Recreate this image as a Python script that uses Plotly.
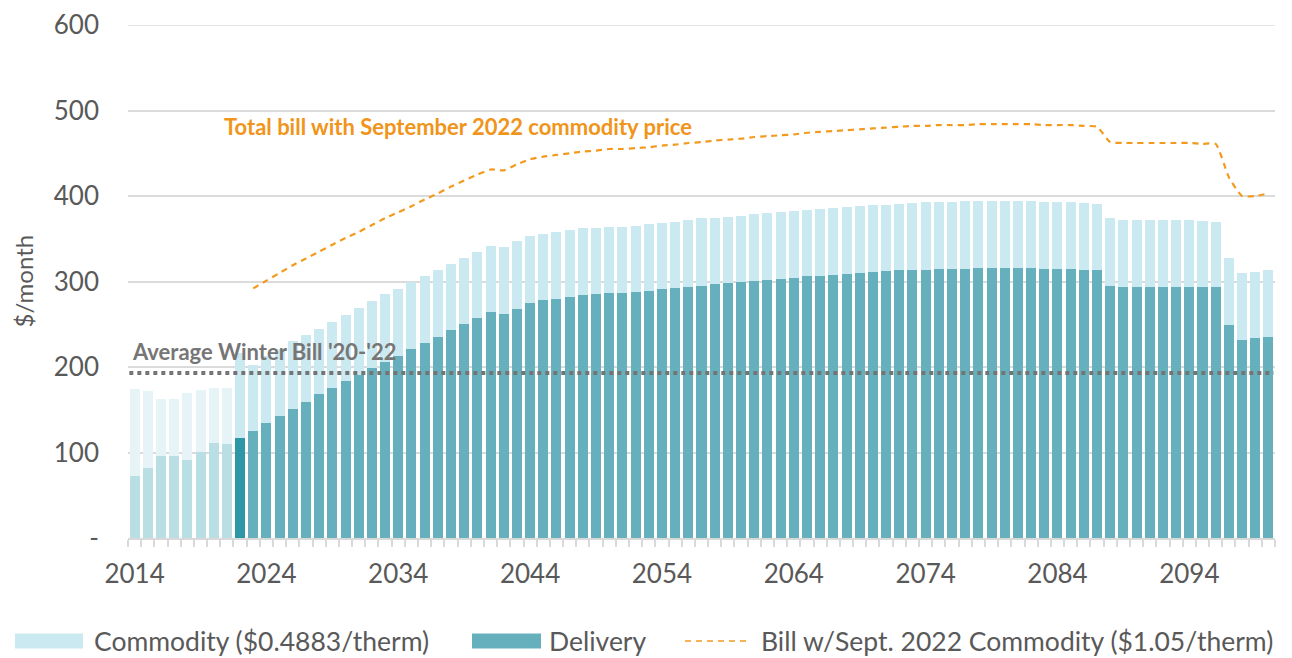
import plotly.graph_objects as go

years = list(range(2014, 2101))

delivery = [72, 82, 96, 96, 91, 101, 111, 110, 117, 125,
            135, 143, 151, 159, 168, 176, 184, 191, 199, 206,
            213, 221, 228, 235, 243, 250, 257, 264, 262, 268,
            275, 278, 280, 282, 284, 285, 287, 286, 288, 289,
            291, 292, 294, 295, 297, 298, 299, 301, 302, 303,
            304, 306, 307, 308, 309, 310, 311, 312, 313, 314,
            314, 315, 315, 315, 316, 316, 316, 316, 316, 315,
            315, 315, 314, 313, 295, 294, 294, 294, 294, 294,
            294, 294, 293, 249, 232, 234, 235]

commodity = [102, 90, 67, 67, 79, 72, 65, 66, 99, 77,
             78, 78, 79, 78, 77, 77, 77, 78, 78, 79,
             78, 78, 78, 78, 78, 78, 78, 78, 78, 79,
             78, 78, 78, 78, 78, 78, 77, 78, 77, 78,
             78, 78, 78, 79, 77, 77, 78, 78, 78, 78,
             78, 78, 78, 78, 78, 78, 78, 78, 78, 78,
             79, 78, 78, 79, 78, 78, 78, 78, 78, 78,
             78, 78, 78, 78, 79, 78, 78, 78, 78, 78,
             78, 77, 77, 78, 78, 77, 78]

bill_years = list(range(2023, 2101))
bill_sept2022 = [292, 301, 310, 319, 327, 335, 343, 351, 358, 366,
                 374, 381, 388, 396, 403, 411, 418, 425, 431, 430,
                 437, 443, 446, 448, 450, 452, 453, 455, 455, 456,
                 457, 459, 460, 462, 463, 465, 466, 467, 469, 470,
                 471, 472, 474, 475, 476, 477, 478, 479, 480, 481,
                 482, 482, 483, 483, 483, 484, 484, 484, 484, 484,
                 483, 483, 483, 482, 481, 463, 462, 462, 462, 462,
                 462, 462, 461, 461, 422, 400, 400, 403]

avg_winter_bill = 193
y_ticks = [0, 100, 200, 300, 400, 500, 600]
y_ticktext = ["-", "100", "200", "300", "400", "500", "600"]
x_ticks = list(range(2014, 2095, 10))

FONT = "Lato"
GREY = "#595959"
ORANGE = "#f39a1e"
GRID = "rgba(0,0,0,0.14)"

deliv_colors = ["#b9dfe4" if y < 2022 else ("#2e97a6" if y == 2022 else "#66b0bd") for y in years]
comm_colors = ["#e6f4f7" if y < 2022 else "#cbe9f0" for y in years]

fig = go.Figure()
fig.add_trace(go.Bar(x=years, y=delivery, marker=dict(color=deliv_colors, line=dict(width=0)),
                     name="Delivery", showlegend=False))
fig.add_trace(go.Bar(x=years, y=commodity, marker=dict(color=comm_colors, line=dict(width=0)),
                     name="Commodity ($0.4883/therm)", showlegend=False))
fig.add_trace(go.Scatter(x=bill_years, y=bill_sept2022, mode="lines",
                         line=dict(color=ORANGE, width=2.2, dash="6px,5px", shape="spline", smoothing=0.5),
                         name="Bill w/Sept. 2022 Commodity ($1.05/therm)", showlegend=False))

# top gridline at 600
fig.add_shape(type="line", xref="paper", yref="y", x0=0, x1=1, y0=y_ticks[-1], y1=y_ticks[-1],
              line=dict(color=GRID, width=1.5), layer="above")

fig.add_shape(type="line", xref="x", yref="y", x0=2013.6, x1=2100.4, y0=avg_winter_bill, y1=avg_winter_bill,
              line=dict(color="#747474", width=4, dash="4px,4px"), layer="above")

fig.add_annotation(x=2020.6, y=481, xref="x", yref="y", xanchor="left", yanchor="middle",
                   text="<b>Total bill with September 2022 commodity price</b>", showarrow=False,
                   font=dict(family=FONT, size=22, color="#f0941a"))
fig.add_annotation(x=2013.65, y=218, xref="x", yref="y", xanchor="left", yanchor="middle",
                   text="<b>Average Winter Bill '20-'22</b>", showarrow=False,
                   font=dict(family=FONT, size=22, color="#767676"))

# y-axis title
fig.add_annotation(x=0, y=0.5, xref="paper", yref="paper", xshift=-105, textangle=-90,
                   text="$/month", showarrow=False, xanchor="center", yanchor="middle",
                   font=dict(family=FONT, size=24, color=GREY))

# custom legend (plot area is 1147 px wide, 513 px tall; page x of plot left edge = 128)
PW, PH = 1147.0, 513.0
def px_x(v):
    return (v - 128) / PW
leg_y = (538 - 641) / PH
hh = 7.5 / PH
LEG_SIZE = 26.5
fig.add_shape(type="rect", xref="paper", yref="paper", x0=px_x(15), x1=px_x(83),
              y0=leg_y - hh, y1=leg_y + hh, fillcolor="#cbe9f0", line=dict(width=0))
fig.add_annotation(x=px_x(92), y=leg_y, xref="paper", yref="paper", xanchor="left", yanchor="middle",
                   text="Commodity ($0.4883/therm)", showarrow=False,
                   font=dict(family=FONT, size=LEG_SIZE, color=GREY))
fig.add_shape(type="rect", xref="paper", yref="paper", x0=px_x(472), x1=px_x(541),
              y0=leg_y - hh, y1=leg_y + hh, fillcolor="#66b0bd", line=dict(width=0))
fig.add_annotation(x=px_x(547), y=leg_y, xref="paper", yref="paper", xanchor="left", yanchor="middle",
                   text="Delivery", showarrow=False, font=dict(family=FONT, size=LEG_SIZE, color=GREY))
fig.add_shape(type="line", xref="paper", yref="paper", x0=px_x(685), x1=px_x(750),
              y0=leg_y, y1=leg_y, line=dict(color=ORANGE, width=1.5, dash="6px,5px"))
fig.add_annotation(x=px_x(759), y=leg_y, xref="paper", yref="paper", xanchor="left", yanchor="middle",
                   text="Bill w/Sept. 2022 Commodity ($1.05/therm)", showarrow=False,
                   font=dict(family=FONT, size=LEG_SIZE, color=GREY))

# page body has an 8px margin; paper spans page x 8..1284, y 8..658
fig.update_layout(
    width=1276, height=650,
    margin=dict(l=120, r=9, t=17, b=120, autoexpand=False),
    barmode="stack", bargap=0.24,
    plot_bgcolor="white", paper_bgcolor="white",
    font=dict(family=FONT, size=26, color=GREY),
    showlegend=False,
)
fig.update_xaxes(range=[2013.5, 2100.5], tickvals=x_ticks, ticks="", showgrid=False, zeroline=False,
                 showline=True, linecolor="#d9d9d9", linewidth=1.5, ticklabelstandoff=12,
                 automargin=False,
                 tickfont=dict(family=FONT, size=26, color=GREY),
                 minor=dict(ticks="outside", tick0=2013.5, dtick=1, ticklen=7, tickcolor="#d9d9d9",
                            tickwidth=1.5, showgrid=False))
fig.update_yaxes(range=[0, 600], tickvals=y_ticks, ticktext=y_ticktext, showgrid=True,
                 gridcolor=GRID, gridwidth=1.5, zeroline=False, showline=False,
                 layer="above traces", ticklabelstandoff=28, automargin=False,
                 tickfont=dict(family=FONT, size=26, color=GREY))

fig.write_html("out.html")
